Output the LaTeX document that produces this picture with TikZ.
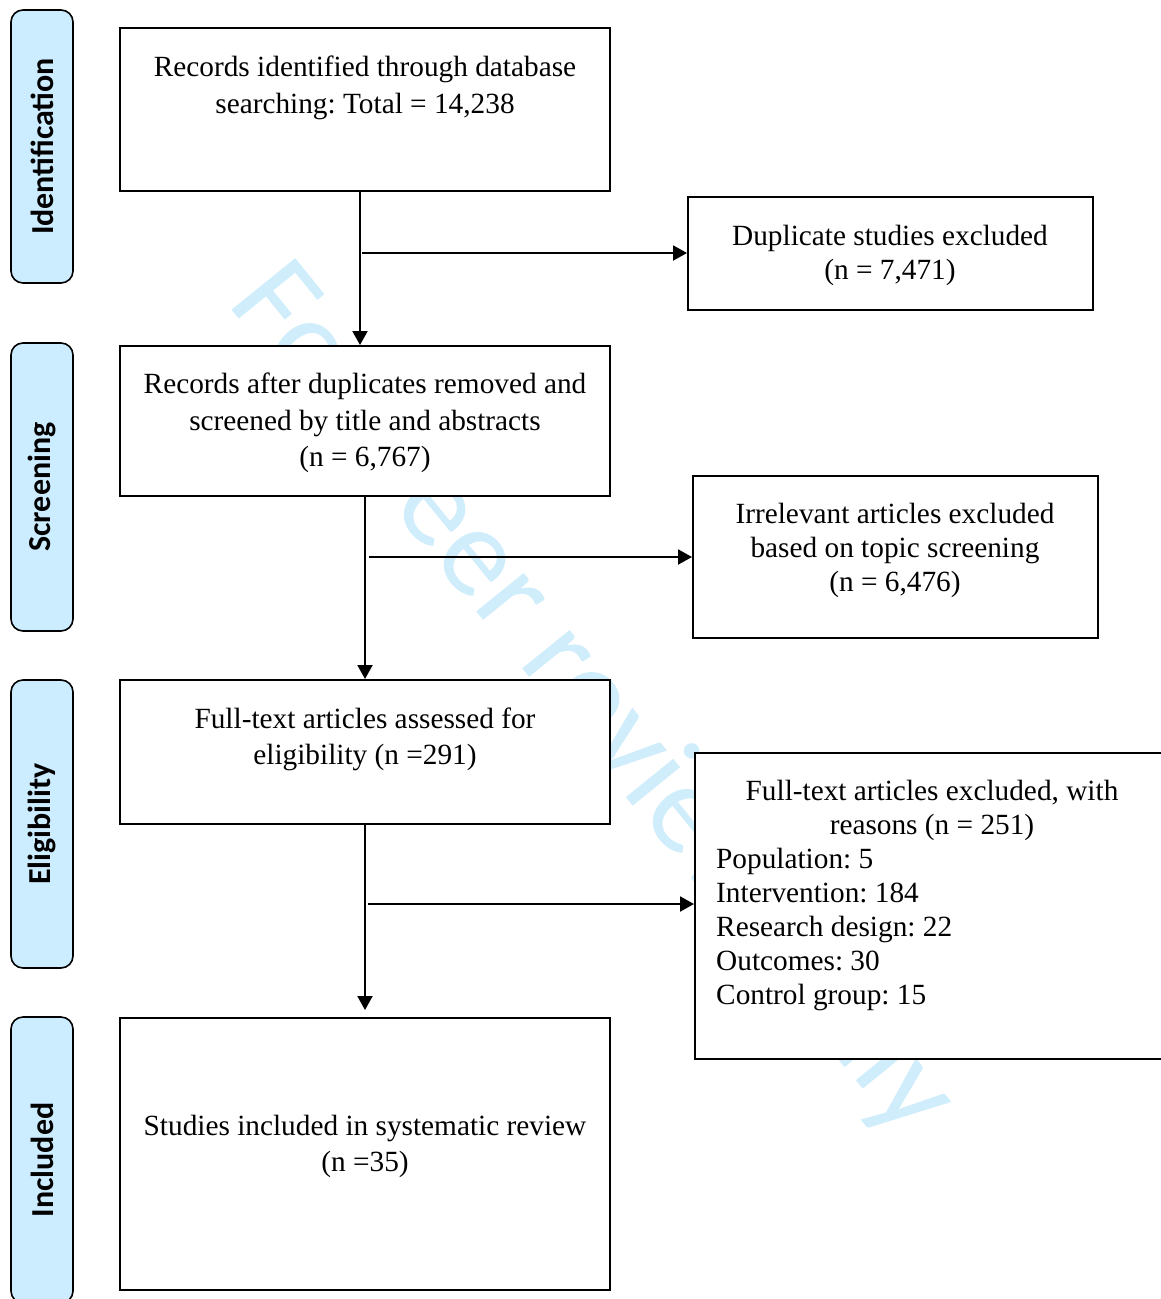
\documentclass[tikz,border=0pt]{standalone}
\usepackage{fontspec}
\setmainfont{Liberation Serif}
\newfontfamily\calfont{Carlito}
\usetikzlibrary{arrows.meta}
\definecolor{sidefill}{RGB}{204,236,255}
\definecolor{wmark}{RGB}{207,237,251}
\frenchspacing
\begin{document}
\begin{tikzpicture}[x=1pt,y=-1pt,
 box/.style={draw=black, line width=2pt, fill=white, inner sep=0},
 side/.style={draw=black, line width=1.6pt, fill=sidefill, rounded corners=12pt, inner sep=0,
   font=\calfont\bfseries\fontsize{32}{32}\selectfont, rotate=90},
 txt/.style={font=\fontsize{29.3}{36.5}\selectfont, align=center, inner sep=0},
 txtb/.style={font=\fontsize{29.3}{34}\selectfont, align=center, inner sep=0},
 txtl/.style={font=\fontsize{29.3}{34}\selectfont, align=left, inner sep=0},
 wm/.style={font=\calfont\fontsize{128}{132}\selectfont, text=wmark, inner sep=0},
 arr/.style={line width=2pt, -{Triangle[length=14pt,width=15pt]}}]
\useasboundingbox (0,0) rectangle (1161,1299);
\clip (0,0) rectangle (1161,1299);
% watermark
\node[wm, anchor=base west, rotate=-51] (wmk) at (226,303) {For Peer review Only};
% side labels
\node[side, minimum width=273pt, minimum height=62pt] (s1) at (42,146.5) {Identification};
\node[side, minimum width=288pt, minimum height=62pt] (s2) at (42,487) {Screening};
\node[side, minimum width=288pt, minimum height=62pt] (s3) at (42,824) {Eligibility};
\node[side, minimum width=286pt, minimum height=62pt] (s4) at (42,1160) {Included};
% boxes
\node[box, minimum width=490pt, minimum height=163pt] (A) at (365,109.5) {};
\node[box, minimum width=405pt, minimum height=113pt] (B) at (890.5,253.5) {};
\node[box, minimum width=490pt, minimum height=150pt] (C) at (365,421) {};
\node[box, minimum width=405pt, minimum height=162pt] (D) at (895.5,557) {};
\node[box, minimum width=490pt, minimum height=144pt] (E) at (365,752) {};
\node[box, minimum width=474pt, minimum height=306pt] (F) at (932,906) {};
\node[box, minimum width=490pt, minimum height=272pt] (G) at (365,1154) {};
% texts
\node[txt] (tA) at (365,88) {Records identified through database\\searching: Total = 14,238};
\node[txtb] (tB) at (890,255.5) {Duplicate studies excluded\\(n = 7,471)};
\node[txt] (tC) at (365,423) {Records after duplicates removed and\\screened by title and abstracts\\(n = 6,767)};
\node[txtb] (tD) at (895,550.5) {Irrelevant articles excluded\\based on topic screening\\(n = 6,476)};
\node[txt] (tE) at (365,739.5) {Full-text articles assessed for\\eligibility (n =291)};
\node[txtb] (tF1) at (932,810.5) {Full-text articles excluded, with\\reasons (n = 251)};
\node[txtl, anchor=west] (tF2) at (716,929) {Population: 5\\Intervention: 184\\Research design: 22\\Outcomes: 30\\Control group: 15};
\node[txt] (tG) at (365,1146.5) {Studies included in systematic review\\(n =35)};
% connectors
\draw[arr] ([xshift=-5pt]A.south) -- ([xshift=-5pt]C.north);
\coordinate (j1) at (362,253);
\draw[arr] (j1) -- (j1 -| B.west);
\draw[arr] (C.south) -- (E.north);
\coordinate (j2) at (369,557);
\draw[arr] (j2) -- (j2 -| D.west);
\draw[arr] (E.south) -- ([yshift=7pt]G.north);
\coordinate (j3) at (368,904);
\draw[arr] (j3) -- (j3 -| F.west);
\end{tikzpicture}
\end{document}
